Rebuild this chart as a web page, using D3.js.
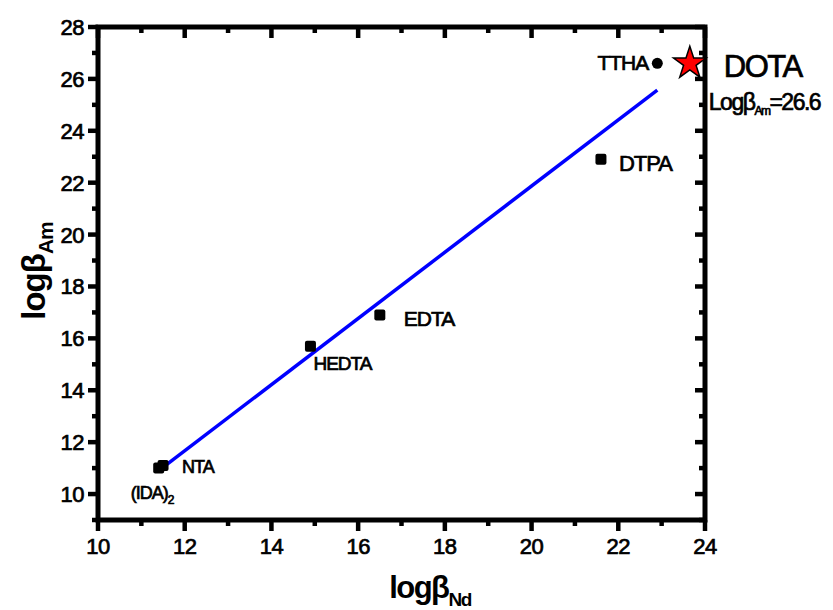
<!DOCTYPE html>
<html>
<head>
<meta charset="utf-8">
<script src="https://cdn.jsdelivr.net/npm/d3@7"></script>
<style>
  body { margin: 0; background: #fff; }
  text { font-family: "Liberation Sans", Arial, sans-serif; fill: #000; }
  .heavy { stroke: #000; stroke-width: 0.7px; }
</style>
</head>
<body>
<div id="chart"></div>
<script>
// ligands
const ligands = ["(IDA)2", "NTA", "HEDTA", "EDTA", "DTPA", "TTHA"]
const logNd   = [11.4, 11.5, 14.9, 16.5, 21.6, 22.9]
const logAm   = [11.0, 11.1, 15.7, 16.9, 22.9, 26.6]
const shapes  = ["square", "square", "square", "square", "square", "circle"]

const starPoint = { name: "DOTA", nd: 23.65, am: 26.6 }

// fitted line end points
const fitNd = [11.4, 22.9]
const fitAm = [10.9, 25.57]

const xTicks = [10, 12, 14, 16, 18, 20, 22, 24]
const yTicks = [10, 12, 14, 16, 18, 20, 22, 24, 26, 28]

var W = 833, H = 610
var margin = { top: 27, right: 128, bottom: 90, left: 98 },
    width = W - margin.left - margin.right,
    height = H - margin.top - margin.bottom

var svg = d3.select("#chart").append("svg")
    .attr("width", W)
    .attr("height", H)

var g = svg.append("g")
    .attr("transform", "translate(" + margin.left + "," + margin.top + ")")

var x = d3.scaleLinear().domain([10, 24]).range([0, width])
var y = d3.scaleLinear().domain([9, 28]).range([height, 0])

var minorX = d3.range(11, 24, 2)
var minorY = d3.range(9, 28, 2)

// frame
g.append("rect")
    .attr("x", 0).attr("y", 0)
    .attr("width", width).attr("height", height)
    .attr("fill", "none")
    .attr("stroke", "#000")
    .attr("stroke-width", 5)

var ticks = g.append("g").attr("stroke", "#000").attr("stroke-width", 4.5)

// bottom (outward) and top (inward)
function xTickLines(vals, len) {
    ticks.selectAll(null).data(vals).enter().append("line")
        .attr("x1", d => x(d)).attr("x2", d => x(d))
        .attr("y1", height).attr("y2", height + len)
    ticks.selectAll(null).data(vals).enter().append("line")
        .attr("x1", d => x(d)).attr("x2", d => x(d))
        .attr("y1", 0).attr("y2", len)
}
// left (outward) and right (inward)
function yTickLines(vals, len) {
    ticks.selectAll(null).data(vals).enter().append("line")
        .attr("y1", d => y(d)).attr("y2", d => y(d))
        .attr("x1", 0).attr("x2", -len)
    ticks.selectAll(null).data(vals).enter().append("line")
        .attr("y1", d => y(d)).attr("y2", d => y(d))
        .attr("x1", width).attr("x2", width - len)
}
xTickLines(xTicks, 11)
xTickLines(minorX, 6)
yTickLines(yTicks, 10)
yTickLines(minorY, 6)

g.selectAll(".xlab")
    .data(xTicks)
    .enter().append("text")
    .attr("class", "xlab heavy")
    .attr("x", d => x(d))
    .attr("y", height + 34)
    .style("text-anchor", "middle")
    .style("font-size", "22px")
    .style("letter-spacing", "-0.5px")
    .text(d => d)

g.selectAll(".ylab")
    .data(yTicks)
    .enter().append("text")
    .attr("class", "ylab heavy")
    .attr("x", -14)
    .attr("y", d => y(d) + 8)
    .style("text-anchor", "end")
    .style("font-size", "22px")
    .style("letter-spacing", "-0.5px")
    .text(d => d)

// fit line
g.append("line")
    .attr("x1", x(fitNd[0])).attr("y1", y(fitAm[0]))
    .attr("x2", x(fitNd[1])).attr("y2", y(fitAm[1]))
    .attr("stroke", "#0000ff")
    .attr("stroke-width", 3.5)

var points = ligands.map((name, i) => ({ name: name, nd: logNd[i], am: logAm[i], shape: shapes[i] }))

g.selectAll(".pt-sq")
    .data(points.filter(d => d.shape == "square"))
    .enter().append("rect")
    .attr("class", "pt-sq")
    .attr("x", d => x(d.nd) - 5.5)
    .attr("y", d => y(d.am) - 5.5)
    .attr("width", 11)
    .attr("height", 11)
    .attr("rx", 2)
    .attr("fill", "#000")

g.selectAll(".pt-c")
    .data(points.filter(d => d.shape == "circle"))
    .enter().append("circle")
    .attr("class", "pt-c")
    .attr("cx", d => x(d.nd))
    .attr("cy", d => y(d.am))
    .attr("r", 5.5)
    .attr("fill", "#000")

// star
g.append("path")
    .attr("d", d3.symbol().type(d3.symbolStar).size(330)())
    .attr("transform", "translate(" + x(starPoint.nd) + "," + y(starPoint.am) + ")")
    .attr("fill", "#ff0000")
    .attr("stroke", "#000")
    .attr("stroke-width", 1.5)

// label offsets (px) relative to each point
var labelPos = {
    "(IDA)2": [-28, 31, "start", 18],
    "NTA":    [19, 7, "start", 18],
    "HEDTA":  [3, 24, "start", 19],
    "EDTA":   [24, 11, "start", 21],
    "DTPA":   [18, 12, "start", 22],
    "TTHA":   [-9, 7, "end", 21]
}

var labels = g.selectAll(".lbl")
    .data(points)
    .enter().append("text")
    .attr("class", "lbl heavy")
    .attr("x", d => x(d.nd) + labelPos[d.name][0])
    .attr("y", d => y(d.am) + labelPos[d.name][1])
    .style("text-anchor", d => labelPos[d.name][2])
    .style("font-size", d => labelPos[d.name][3] + "px")
    .style("letter-spacing", "-1px")

labels.each(function(d) {
    var t = d3.select(this)
    if (d.name == "(IDA)2") {
        t.append("tspan").text("(IDA)")
        t.append("tspan").text("2").attr("dy", 5).style("font-size", "12px")
    } else {
        t.text(d.name)
    }
})

g.append("text")
    .attr("class", "heavy")
    .attr("x", x(starPoint.nd) + 34)
    .attr("y", y(starPoint.am) + 14)
    .style("font-size", "31px")
    .style("letter-spacing", "-1.5px")
    .text(starPoint.name)

var lb = g.append("text")
    .attr("class", "heavy")
    .attr("x", x(starPoint.nd) + 19)
    .attr("y", y(starPoint.am) + 47)
    .style("font-size", "23px")
    .style("letter-spacing", "-1.5px")
lb.append("tspan").text("Logβ")
lb.append("tspan").text("Am").attr("dy", 5).style("font-size", "12px")
lb.append("tspan").text("=" + starPoint.am).attr("dy", -5)

// axis titles
var xl = svg.append("text")
    .attr("x", 430)
    .attr("y", 598)
    .style("text-anchor", "middle")
    .style("font-size", "31px")
    .style("font-weight", "bold")
    .style("letter-spacing", "-1.5px")
xl.append("tspan").text("logβ")
xl.append("tspan").text("Nd").attr("dy", 8).style("font-size", "19px")

var yl = svg.append("text")
    .attr("transform", "translate(45,271) rotate(-90)")
    .style("text-anchor", "middle")
    .style("font-size", "33px")
    .style("font-weight", "bold")
    .style("letter-spacing", "-1px")
yl.append("tspan").text("logβ")
yl.append("tspan").text("Am").attr("dy", 8).style("font-size", "21px")
</script>
</body>
</html>
